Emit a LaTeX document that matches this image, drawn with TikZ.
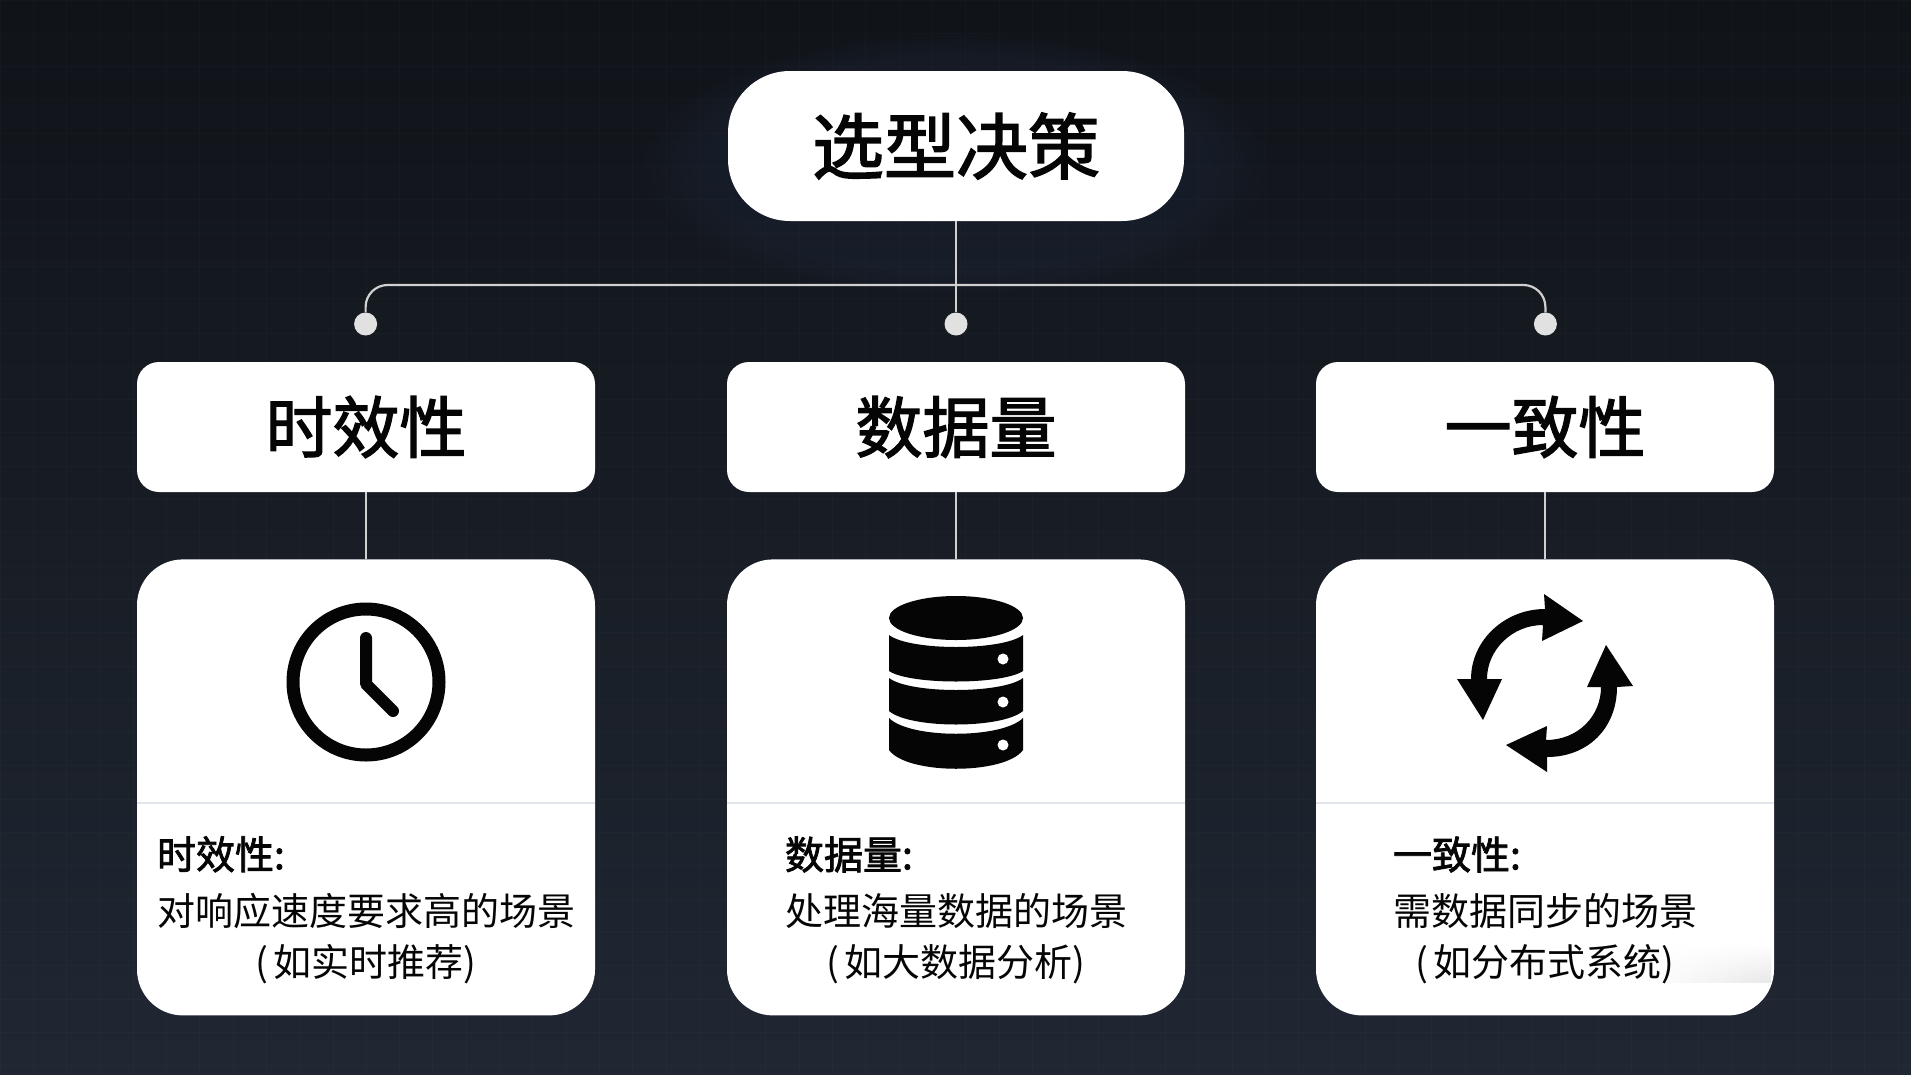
\documentclass[tikz,border=0pt]{standalone}
\usepackage{fontspec}
\usepackage{tikz}
\usetikzlibrary{positioning,fadings}
\setmainfont{Noto Sans CJK SC}
\newfontfamily\medfont[FakeBold=2]{Noto Sans CJK SC}
\definecolor{bgtop}{RGB}{16,19,24}
\definecolor{bgmiddle}{RGB}{21,25,32}
\definecolor{bgbottom}{RGB}{32,39,51}
\definecolor{glow}{RGB}{34,46,72}
\definecolor{wire}{RGB}{208,208,208}
\definecolor{pin}{RGB}{225,225,225}
\definecolor{rule}{RGB}{224,228,235}
\definecolor{ink}{RGB}{5,5,5}

\begin{document}
\begin{tikzpicture}[
      x=1pt, y=-1pt,
      decision/.style={fill=white, rounded corners=62pt, minimum width=456pt,
                       minimum height=150pt, text=ink,
                       font=\fontsize{72}{72}\selectfont\medfont},
      factor/.style={fill=white, rounded corners=22pt, minimum width=458pt,
                     minimum height=130pt, text=ink,
                     font=\fontsize{67}{67}\selectfont\medfont},
      card/.style={fill=white, rounded corners=46pt, minimum width=458pt,
                   minimum height=456pt},
      pindot/.style={circle, fill=pin, inner sep=0pt, minimum size=23pt},
      desc/.style={align=center, inner sep=0pt, text=ink,
                   font=\fontsize{38}{51}\selectfont},
      tag/.style={inner sep=0pt, text=ink,
                  font=\fontsize{39}{39}\selectfont\medfont},
      link/.style={draw=wire, line width=2.2pt},
    ]
    % --- background ---
    \shade[top color=bgtop, middle color=bgmiddle, bottom color=bgbottom]
      (0,0) rectangle (1911,1074);
    \useasboundingbox (0,0) rectangle (1911,1074);
    \draw[white, opacity=0.018, line width=1pt, step=33.3pt] (0,0) grid (1911,1074);
    \fill[glow, opacity=0.25, path fading=circle with fuzzy edge 20 percent]
      (640,30) rectangle (1272,300);

    % --- boxes ---
    \node[decision] (title) at (956,146) {选型决策};
    \node[pindot] (pinb) at (956,324) {};
    \node[pindot, left=567pt of pinb] (pina) {};
    \node[pindot, right=566pt of pinb] (pinc) {};
    \node[factor] (heada) at (366,427) {时效性};
    \node[factor] (headb) at (956,427) {数据量};
    \node[factor] (headc) at (1545,427) {一致性};
    \node[card, below=67pt of heada] (carda) {};
    \node[card, below=67pt of headb] (cardb) {};
    \node[card, below=67pt of headc] (cardc) {};
    \coordinate (bus) at (956,285);

    % --- connectors ---
    \draw[link] (title) -- (pinb);
    \draw[link, rounded corners=22pt] (pina) |- (bus) -| (pinc);
    \draw[link] (heada) -- (carda);
    \draw[link] (headb) -- (cardb);
    \draw[link] (headc) -- (cardc);

    % --- dividers ---
    \draw[rule, line width=1.5pt] (carda.west |- 0,803) -- (carda.east |- 0,803);
    \draw[rule, line width=1.5pt] (cardb.west |- 0,803) -- (cardb.east |- 0,803);
    \draw[rule, line width=1.5pt] (cardc.west |- 0,803) -- (cardc.east |- 0,803);

    % --- clock ---
    \draw[ink, line width=13pt] (366,682) circle (73pt);
    \draw[ink, line width=12pt, line cap=round, line join=round]
      (366,638) -- (366,684) -- (393,711);

    % --- database ---
    \fill[ink] (956,618) ellipse (67pt and 22pt);
    \fill[ink] (889,635) .. controls (910,651) and (1002,651) .. (1023,635)
      -- (1023,671) .. controls (1002,685) and (910,685) .. (889,671) -- cycle;
    \fill[ink] (889,678) .. controls (910,694) and (1002,694) .. (1023,678)
      -- (1023,711) .. controls (1002,729) and (910,729) .. (889,711) -- cycle;
    \fill[ink] (889,718) .. controls (910,739) and (1002,739) .. (1023,718)
      -- (1023,750) .. controls (1005,775) and (907,775) .. (889,750) -- cycle;
    \fill[white] (1003,659) circle (5.5pt);
    \fill[white] (1003,702) circle (5.5pt);
    \fill[white] (1003,745) circle (5.5pt);

    % --- sync arrows ---
    \fill[ink] (1583,621) -- (1544,594) -- (1545,609)
      .. controls (1505,609) and (1471,640) .. (1471,679)
      -- (1457,679) -- (1483,720) -- (1502,679) -- (1487,679)
      .. controls (1487,650) and (1512,625) .. (1543,625)
      -- (1542,641) -- cycle;
    \fill[ink] (1506,745) -- (1547,772) -- (1547,757)
      .. controls (1588,757) and (1617,728) .. (1617,687)
      -- (1633,686) -- (1606,645) -- (1587,687) -- (1601,687)
      .. controls (1601,716) and (1578,740) .. (1546,740)
      -- (1547,726) -- cycle;

    % --- grey patch on the last card ---
    \shade[left color=white, right color=black!9, path fading=north]
      (1650,945) rectangle (1771,982);

    % --- texts ---
    \node[desc, above=31pt of carda.south] (desca) {对响应速度要求高的场景\\(\kern5pt 如实时推荐)};
    \node[desc, above=31pt of cardb.south] (descb) {处理海量数据的场景\\(\kern5pt 如大数据分析)};
    \node[desc, above=31pt of cardc.south] (descc) {需数据同步的场景\\(\kern5pt 如分布式系统)};
    \node[tag, above=21pt of desca.north west, anchor=south west] (taga) {时效性:};
    \node[tag, above=21pt of descb.north west, anchor=south west] (tagb) {数据量:};
    \node[tag, above=21pt of descc.north west, anchor=south west] (tagc) {一致性:};
  \end{tikzpicture}
\end{document}
